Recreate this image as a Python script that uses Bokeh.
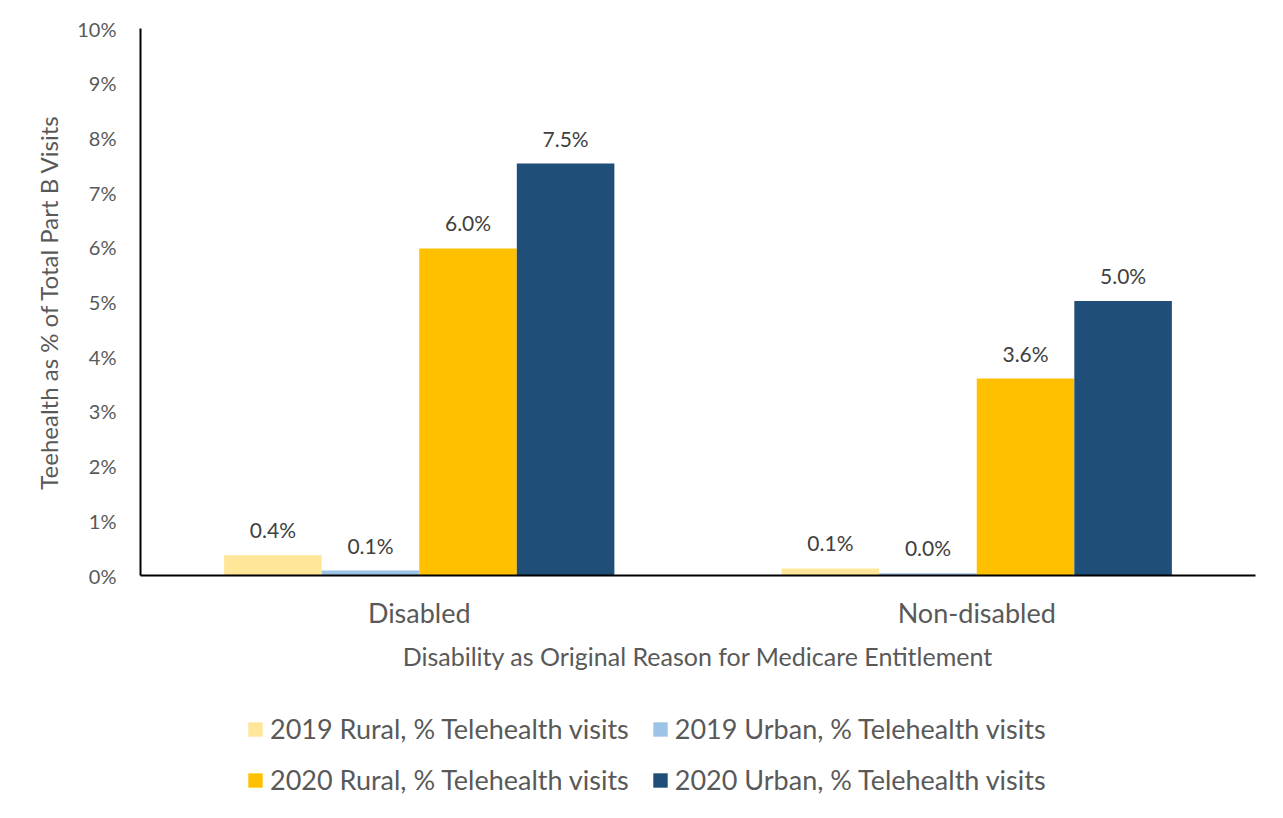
from bokeh.plotting import figure
from bokeh.layouts import column
from bokeh.models import (ColumnDataSource, FactorRange, Range1d, FixedTicker,
                          Legend, LegendItem, LabelSet)
from bokeh.core.properties import value
from bokeh.transform import dodge
from bokeh.embed import file_html
from bokeh.resources import INLINE

categories = ["Disabled", "Non-disabled"]
series_names = ["2019 Rural, % Telehealth visits", "2019 Urban, % Telehealth visits",
                "2020 Rural, % Telehealth visits", "2020 Urban, % Telehealth visits"]
rural_2019 = [0.37, 0.13]
urban_2019 = [0.09, 0.04]
rural_2020 = [5.98, 3.60]
urban_2020 = [7.53, 5.02]
y_ticks = [0, 1, 2, 3, 4, 5, 6, 7, 8, 9, 10]
y_tick_labels = [f"{t}%" for t in y_ticks]

colors = ["#FFE699", "#9DC3E6", "#FFC000", "#1F4E79"]
offsets = [-0.2625, -0.0875, 0.0875, 0.2625]
keys = ["r19", "u19", "r20", "u20"]
FONT = "Lato"

p = figure(x_range=FactorRange(*categories), y_range=Range1d(0, 10),
           frame_width=1115, frame_height=547, output_backend="svg", toolbar_location=None,
           min_border_left=140, min_border_right=12, min_border_top=28, min_border_bottom=110)

src = ColumnDataSource(dict(cat=categories, r19=rural_2019, u19=urban_2019,
                            r20=rural_2020, u20=urban_2020))
for key, col, off in zip(keys, colors, offsets):
    p.vbar(x=dodge("cat", off, range=p.x_range), top=key, width=0.175, source=src,
           fill_color=col, line_color=None)
    lab_src = ColumnDataSource(dict(cat=categories, y=src.data[key],
                                    t=[f"{v:.1f}%" for v in src.data[key]]))
    p.add_layout(LabelSet(x=dodge("cat", off, range=p.x_range), y="y", text="t", source=lab_src,
                          text_align="center", text_baseline="alphabetic", y_offset=17,
                          text_font=value(FONT), text_font_size="21px", text_color="#404040"))

p.grid.visible = False
p.outline_line_color = None
p.background_fill_color = "white"
p.border_fill_color = "white"

ya = p.yaxis[0]
ya.ticker = FixedTicker(ticks=y_ticks)
ya.major_label_overrides = {t: l for t, l in zip(y_ticks, y_tick_labels)}
ya.major_tick_line_color = None
ya.minor_tick_line_color = None
ya.major_tick_out = 0
ya.major_tick_in = 0
ya.axis_line_color = "black"
ya.axis_line_width = 2
ya.major_label_text_font = FONT
ya.major_label_text_font_size = "20px"
ya.major_label_text_color = "#595959"
ya.major_label_standoff = 24
ya.axis_label = "Teehealth as % of Total Part B Visits"
ya.axis_label_text_font = FONT
ya.axis_label_text_font_size = "24px"
ya.axis_label_text_font_style = "normal"
ya.axis_label_text_color = "#595959"
ya.axis_label_standoff = 11

xa = p.xaxis[0]
xa.major_tick_line_color = None
xa.minor_tick_line_color = None
xa.major_tick_out = 0
xa.major_tick_in = 0
xa.axis_line_color = "black"
xa.axis_line_width = 2
xa.major_label_text_font = FONT
xa.major_label_text_font_size = "27px"
xa.major_label_text_color = "#595959"
xa.major_label_standoff = 20
xa.axis_label = "Disability as Original Reason for Medicare Entitlement"
xa.axis_label_text_font = FONT
xa.axis_label_text_font_size = "25px"
xa.axis_label_text_font_style = "normal"
xa.axis_label_text_color = "#595959"
xa.axis_label_standoff = 9

# legend strip (separate figure so the legend is not clipped by the plot frame)
LEG_H = 120
lf = figure(width=1267, height=LEG_H, x_range=FactorRange(*categories), y_range=Range1d(0, 10),
            output_backend="svg", toolbar_location=None, min_border=0,
            x_axis_location=None, y_axis_location=None)
lf.grid.visible = False
lf.outline_line_color = None
lf.border_fill_color = "white"
leg_items = []
for key, name, col, off in zip(keys, series_names, colors, offsets):
    r = lf.vbar(x=dodge("cat", off, range=lf.x_range), top=key, width=0.175, source=src,
                fill_color=col, line_color=None, visible=False)
    leg_items.append(LegendItem(label=name, renderers=[r]))

for row, ypos in ((leg_items[:2], 60), (leg_items[2:], 9)):
    lg = Legend(items=row, orientation="horizontal", location=(106, ypos),
                label_text_font=FONT, label_text_font_size="27px", label_text_color="#595959",
                glyph_width=18, glyph_height=18, label_standoff=6, spacing=22,
                border_line_color=None, background_fill_alpha=0, margin=0, padding=0)
    lf.add_layout(lg, "center")

layout = column(p, lf)
open("out.html", "w").write(file_html(layout, INLINE))
